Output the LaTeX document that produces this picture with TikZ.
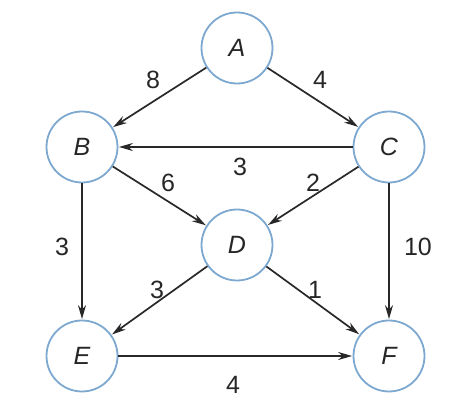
\documentclass[tikz,border=0pt]{standalone}
\usepackage{fontspec}
\setmainfont{Liberation Sans}
\usetikzlibrary{arrows.meta}
\definecolor{ringblue}{RGB}{125,168,208}
\definecolor{edgegray}{RGB}{40,40,40}
\tikzset{
  vert/.style={circle, draw=ringblue, line width=1.8pt, fill=white, minimum size=71pt, inner sep=0pt, font=\fontsize{25}{28}\selectfont\itshape, text=black!85},
  edge/.style={draw=edgegray, line width=1.7pt, -{Stealth[length=14pt,width=8pt]}, shorten >=0.5pt},
  wlabel/.style={font=\fontsize{25}{28}\selectfont, text=black!85, inner sep=0pt}
}
\begin{document}
\begin{tikzpicture}[x=1pt,y=-1pt]
\useasboundingbox (0,0) rectangle (456,403);
\node[vert] (A) at (237,48) {A};
\node[vert] (B) at (82,147) {B};
\node[vert] (C) at (389,147) {C};
\node[vert] (D) at (237,245) {D};
\node[vert] (E) at (82,356) {E};
\node[vert] (F) at (389,356) {F};
\draw[edge] (A) -- (B);
\draw[edge] (A) -- (C);
\draw[edge] (C) -- (B);
\draw[edge] (B) -- (D);
\draw[edge] (C) -- (D);
\draw[edge] (B) -- (E);
\draw[edge] (C) -- (F);
\draw[edge] (D) -- (E);
\draw[edge] (D) -- (F);
\draw[edge] (E) -- (F);
\node[wlabel] (l8) at (153,80) {8};
\node[wlabel] (l4a) at (320,80) {4};
\node[wlabel] (l3a) at (240,167) {3};
\node[wlabel] (l6) at (168,183) {6};
\node[wlabel] (l2) at (313,183) {2};
\node[wlabel] (l3b) at (62,247) {3};
\node[wlabel] (l10) at (418,247) {10};
\node[wlabel] (l3c) at (157,290) {3};
\node[wlabel] (l1) at (315,290) {1};
\node[wlabel] (l4b) at (233,385) {4};
\end{tikzpicture}
\end{document}
